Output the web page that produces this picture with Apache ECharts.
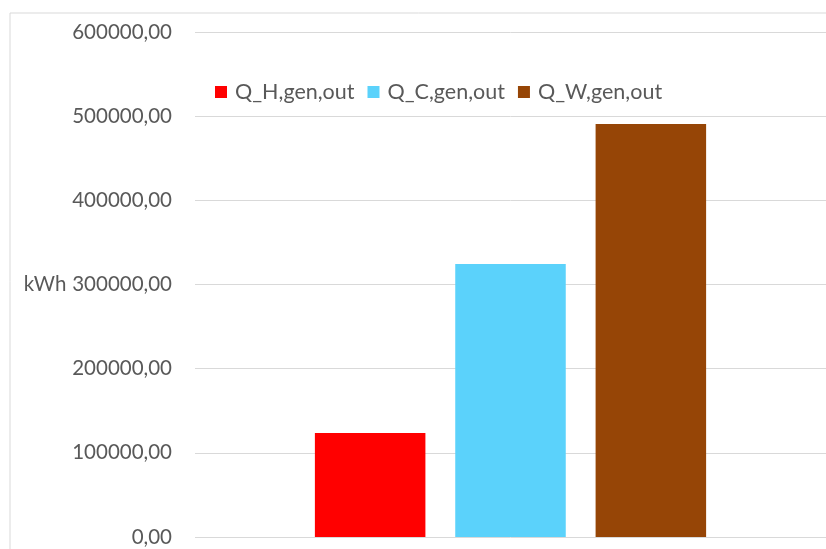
<!DOCTYPE html>
<html><head><meta charset="utf-8">
<script src="https://cdn.jsdelivr.net/npm/echarts@6/dist/echarts.min.js"></script>
<style>html,body{margin:0;padding:0;background:#fff}#c{width:826px;height:549px}</style>
</head><body><div id="c"></div>
<script>
var categories = [''];
var seriesNames = ['Q_H,gen,out', 'Q_C,gen,out', 'Q_W,gen,out'];
var seriesValues = [[123500], [324300], [490700]];
var seriesColors = ['#ff0000', '#5bd2fb', '#964506'];
var yTicks = [0, 100000, 200000, 300000, 400000, 500000, 600000];
var yName = 'kWh';

var chart = echarts.init(document.getElementById('c'), null, {renderer: 'canvas'});
var FONT = 'Lato, "Open Sans", sans-serif';
var series = seriesNames.map(function (n, i) {
  return {
    name: n, type: 'bar', data: seriesValues[i],
    itemStyle: {color: seriesColors[i]},
    barGap: '27%', barCategoryGap: '38%'
  };
});
chart.setOption({
  animation: false,
  graphic: [{type: 'rect', shape: {x: 10, y: 13, width: 830, height: 560},
    style: {fill: 'none', stroke: '#d9d9d9', lineWidth: 1}, silent: true}],
  legend: {
    left: 215, top: 81, padding: 0, itemWidth: 12, itemHeight: 12, itemGap: 13,
    icon: 'rect',
    textStyle: {color: '#595959', fontSize: 21.5, fontFamily: FONT, padding: [0, 0, 0, 3]},
    data: seriesNames
  },
  grid: {left: 195, right: -2, top: 32, bottom: 12, containLabel: false},
  xAxis: {
    type: 'category', data: categories,
    axisLine: {show: false}, axisTick: {show: false}, axisLabel: {show: false}
  },
  yAxis: {
    type: 'value', min: yTicks[0], max: yTicks[yTicks.length - 1], interval: yTicks[1] - yTicks[0],
    name: yName, nameLocation: 'middle', nameRotate: 0, nameGap: 128,
    nameTextStyle: {color: '#595959', fontSize: 20.5, fontFamily: FONT, align: 'right'},
    axisLine: {show: false}, axisTick: {show: false},
    axisLabel: {color: '#595959', fontSize: 20.5, fontFamily: FONT, margin: 23,
      formatter: function (v) { return v.toFixed(2).replace('.', ','); }},
    splitLine: {lineStyle: {color: '#d9d9d9', width: 1}}
  },
  series: series
});
</script></body></html>
